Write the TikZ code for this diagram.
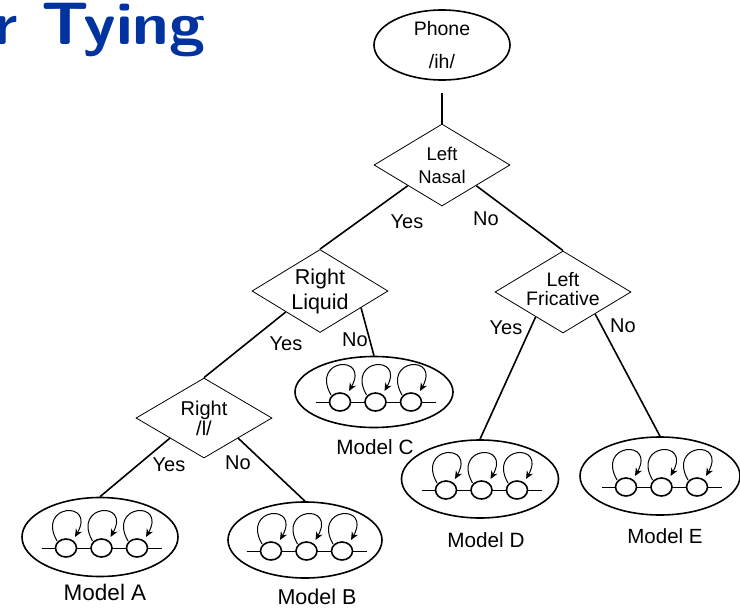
\documentclass[tikz,border=0pt]{standalone}
\usepackage{fontspec}
\setmainfont{Liberation Sans}
\usetikzlibrary{shapes.geometric,arrows.meta,calc}
\definecolor{titleblue}{RGB}{0,51,160}
\newcommand\myfs[2]{\fontsize{#1}{#2}\selectfont}
\tikzset{
  ell/.style={ellipse, draw, line width=1.6pt, inner sep=0pt},
  dia/.style={diamond, draw, line width=0.8pt, minimum width=136pt, minimum height=82pt, inner sep=0pt},
  dtext/.style={align=center, inner sep=0pt},
  lab/.style={inner sep=0pt},
  edge/.style={line width=1.6pt},
  hmm/.pic={
    \draw[line width=0.8pt] (-60,0) -- (60,0);
    \foreach \x in {-35.5,0,35.5}{
      \draw[line width=1.6pt, fill=white] (\x,0) ellipse [x radius=10.5, y radius=9];
      \draw[line width=1pt, -{Stealth[length=8pt,width=7pt]}]
        (\x-9,-7) .. controls (\x-30,-44) and (\x+30,-48) .. (\x+9,-11);
    }
  }
}
\begin{document}
\begin{tikzpicture}[x=1pt, y=-1pt, font=\myfs{20}{22}]
\useasboundingbox (0,0) rectangle (740,608);
% title
\node[anchor=base west, inner sep=0pt, text=titleblue, font=\sffamily\bfseries\myfs{60}{60}] (title) at (-7,44) {\scalebox{1.09}[1]{r Tying}};
% root
\node[ell, minimum width=136pt, minimum height=70pt, align=center, font=\myfs{19.5}{33}] (ph) at (442,45) {Phone\\/ih/};
% questions
\node[dia, label={[dtext, font=\myfs{18.5}{23}]center:{Left\\Nasal}}] (ln) at (442,165) {};
\node[dia, minimum height=83pt, label={[dtext, font=\myfs{21.5}{25}]center:{Right\\Liquid}}] (rl) at (320,291) {};
\node[dia, minimum height=80pt, label={[dtext, font=\myfs{20}{20}]center:{Right\\/l/}}] (rs) at (204,418) {};
\node[dia, label={[dtext, yshift=3pt, font=\myfs{19.5}{19}]center:{Left\\Fricative}}] (lf) at (563,292) {};
% models
\node[ell, minimum width=156pt, minimum height=79pt] (ma) at (100,537) {};
\node[ell, minimum width=154pt, minimum height=76pt] (mb) at (305,540) {};
\node[ell, minimum width=158pt, minimum height=71pt] (mc) at (374,392) {};
\node[ell, minimum width=157pt, minimum height=78pt] (md) at (480,479) {};
\node[ell, minimum width=160pt, minimum height=78pt] (me) at (660,476) {};
\pic at ($(ma)+(1.5,11)$) {hmm};
\pic at ($(mb)+(1.5,11)$) {hmm};
\pic at ($(mc)+(1.5,10)$) {hmm};
\pic at ($(md)+(1.5,11)$) {hmm};
\pic at ($(me)+(1.5,11)$) {hmm};
% model labels
\node[lab, font=\myfs{22.5}{24}] (la) at (105,592) {Model A};
\node[lab, font=\myfs{21.5}{24}] (lb) at (317,597) {Model B};
\node[lab, font=\myfs{20.7}{24}] (lc) at (375,447) {Model C};
\node[lab, font=\myfs{20.7}{24}] (ld) at (486,540) {Model D};
\node[lab, font=\myfs{20.5}{24}] (le) at (665,536) {Model E};
% connectors
\draw[edge, shorten <=12pt] (ph) -- (ln);
\draw[edge] (ln.south west) -- (rl.north);
\draw[edge] (ln.south east) -- (lf.north);
\draw[edge] (rl.south west) -- (rs.north);
\draw[edge] ($(rl.east)!0.4!(rl.south)$) -- (mc.north);
\draw[edge] (rs.south west) -- (ma.north);
\draw[edge] (rs.south east) -- (mb.north);
\draw[edge] ($(lf.west)!0.6!(lf.south)$) -- (md.north);
\draw[edge] ($(lf.east)!0.53!(lf.south)$) -- (me.north);
% branch labels
\node[lab] (y1) at (407,222) {Yes};
\node[lab] (n1) at (486,219) {No};
\node[lab] (y2) at (286,344) {Yes};
\node[lab] (n2) at (355,340) {No};
\node[lab] (y3) at (169,465) {Yes};
\node[lab] (n3) at (238,463) {No};
\node[lab] (y4) at (506,328) {Yes};
\node[lab] (n4) at (623,326) {No};
\end{tikzpicture}
\end{document}
